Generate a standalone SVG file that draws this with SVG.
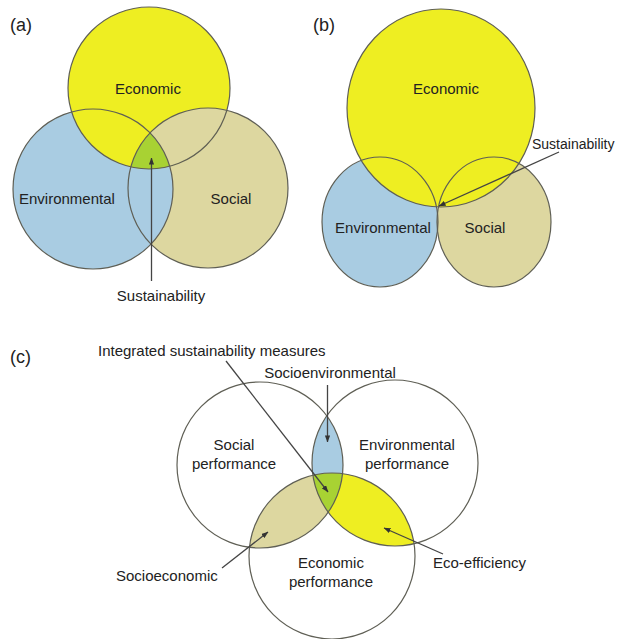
<svg xmlns="http://www.w3.org/2000/svg" width="617" height="639" viewBox="0 0 617 639">
  <style>
    text { font-family: "Liberation Sans", Arial, sans-serif; font-size: 15px; fill: #222; }
    .tag { font-size: 18px; }
    .mid { text-anchor: middle; }
    .ring { fill: none; stroke: #5f5f55; stroke-width: 1.2; }
    .eco { fill: #eeee22; }
    .env { fill: #a9cce2; }
    .soc { fill: #ddd7a0; }
    .all { fill: #a8d233; }
    .lead { stroke: #444; stroke-width: 1.3; fill: none; }
    .open { fill: #fff; }
  </style>
  <defs>
    <marker id="tip" viewBox="0 0 8 6" refX="7.5" refY="3" markerWidth="7" markerHeight="5.5" markerUnits="userSpaceOnUse" orient="auto">
      <path d="M0,0 L8,3 L0,6 z" fill="#333"/>
    </marker>
    <!-- panel (a) circles -->
    <clipPath id="aSoc"><circle cx="208" cy="188" r="80"/></clipPath>
    <clipPath id="aEnv"><circle cx="93" cy="189" r="80"/></clipPath>
    <!-- panel (c) circles -->
    <clipPath id="cEnv"><circle cx="395" cy="463" r="83"/></clipPath>
    <clipPath id="cEco"><circle cx="332" cy="556" r="83"/></clipPath>
  </defs>

  <!-- (a) overlapping pillars -->
  <g id="panel-a">
    <text class="tag" x="10" y="31">(a)</text>
    <g id="a-social">
      <circle class="soc" cx="208" cy="188" r="80"/>
    </g>
    <g id="a-environmental">
      <circle class="env" cx="93" cy="189" r="80"/>
    </g>
    <g id="a-economic">
      <circle class="eco" cx="149" cy="88" r="81"/>
      <g clip-path="url(#aSoc)"><circle class="soc" cx="149" cy="88" r="81"/></g>
      <g clip-path="url(#aSoc)"><g clip-path="url(#aEnv)"><circle class="all" cx="149" cy="88" r="81"/></g></g>
    </g>
    <g id="a-outlines">
      <circle class="ring" cx="208" cy="188" r="80"/>
      <circle class="ring" cx="93" cy="189" r="80"/>
      <circle class="ring" cx="149" cy="88" r="81"/>
    </g>
    <text class="mid" x="148" y="94">Economic</text>
    <text x="19" y="204">Environmental</text>
    <text class="mid" x="231" y="204">Social</text>
    <text class="mid" x="161" y="301">Sustainability</text>
  </g>

  <!-- (b) economy-dominated view -->
  <g id="panel-b">
    <text class="tag" x="313" y="31">(b)</text>
    <g id="b-environmental">
      <ellipse class="env" cx="380" cy="222" rx="58" ry="65"/>
    </g>
    <g id="b-social">
      <ellipse class="soc" cx="494" cy="222" rx="57" ry="65"/>
    </g>
    <g id="b-economic">
      <ellipse class="eco" cx="441" cy="108" rx="94" ry="99"/>
    </g>
    <g id="b-outlines">
      <ellipse class="ring" cx="380" cy="222" rx="58" ry="65"/>
      <ellipse class="ring" cx="494" cy="222" rx="57" ry="65"/>
      <ellipse class="ring" cx="441" cy="108" rx="94" ry="99"/>
    </g>
    <text class="mid" x="446" y="94">Economic</text>
    <text class="mid" x="383" y="233">Environmental</text>
    <text class="mid" x="485" y="233">Social</text>
    <text x="532" y="149" style="font-size:14px">Sustainability</text>
  </g>

  <!-- (c) performance areas -->
  <g id="panel-c">
    <text class="tag" x="10" y="363">(c)</text>
    <g id="c-social">
      <circle class="open" cx="260" cy="465" r="83"/>
    </g>
    <g id="c-environmental">
      <circle class="open" cx="395" cy="463" r="83"/>
    </g>
    <g id="c-economic">
      <circle class="open" cx="332" cy="556" r="83"/>
    </g>
    <g id="c-overlaps">
      <g clip-path="url(#cEnv)"><circle class="env" cx="260" cy="465" r="83"/></g>
      <g clip-path="url(#cEco)"><circle class="soc" cx="260" cy="465" r="83"/></g>
      <g clip-path="url(#cEco)"><circle class="eco" cx="395" cy="463" r="83"/></g>
      <g clip-path="url(#cEco)"><g clip-path="url(#cEnv)"><circle class="all" cx="260" cy="465" r="83"/></g></g>
    </g>
    <g id="c-outlines">
      <circle class="ring" cx="260" cy="465" r="83"/>
      <circle class="ring" cx="395" cy="463" r="83"/>
      <circle class="ring" cx="332" cy="556" r="83"/>
    </g>
    <text x="98" y="356">Integrated sustainability measures</text>
    <text class="mid" x="330" y="378">Socioenvironmental</text>
    <text class="mid" x="234" y="450">Social</text>
    <text class="mid" x="234" y="469">performance</text>
    <text class="mid" x="407" y="450">Environmental</text>
    <text class="mid" x="407" y="469">performance</text>
    <text class="mid" x="331" y="568">Economic</text>
    <text class="mid" x="331" y="587">performance</text>
    <text x="116" y="581">Socioeconomic</text>
    <text x="433" y="568">Eco-efficiency</text>
  </g>

  <g id="connectors">
    <line class="lead" x1="151.5" y1="281" x2="151.5" y2="158" marker-end="url(#tip)"/>
    <line class="lead" x1="559" y1="152" x2="439" y2="206" marker-end="url(#tip)"/>
    <line class="lead" x1="226" y1="361" x2="328" y2="492" marker-end="url(#tip)"/>
    <line class="lead" x1="327.5" y1="385" x2="327.5" y2="442" marker-end="url(#tip)"/>
    <line class="lead" x1="222" y1="568" x2="268" y2="532" marker-end="url(#tip)"/>
    <line class="lead" x1="443" y1="554" x2="384" y2="528" marker-end="url(#tip)"/>
  </g>
</svg>
